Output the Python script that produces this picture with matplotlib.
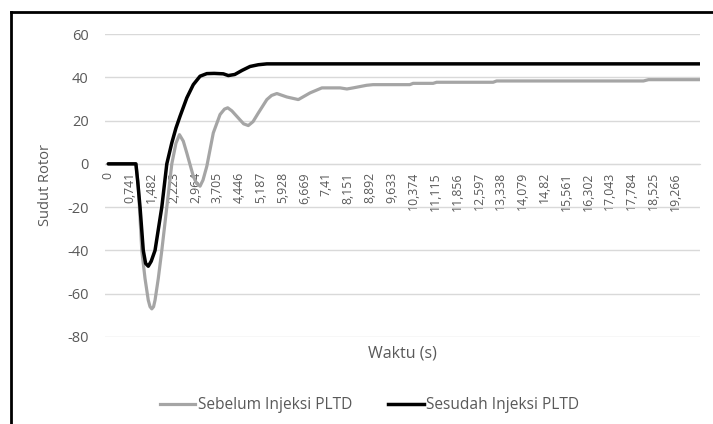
# -*- coding: utf-8 -*-
"""
Sudut rotor sebelum dan sesudah injeksi PLTD
"""

#%% Importing packages
import matplotlib
matplotlib.use('Agg')
import matplotlib.pyplot as plt
from matplotlib.lines import Line2D

plt.rcParams['font.family'] = ['Open Sans', 'DejaVu Sans']

#%% Data
t_sebelum = [0, 0.94, 1.02, 1.14, 1.25, 1.36, 1.42, 1.48, 1.54, 1.59, 1.70, 1.82, 1.99, 2.16,
             2.30, 2.42, 2.55, 2.67, 2.89, 3.00, 3.12, 3.22, 3.35, 3.57, 3.80, 3.95, 4.06,
             4.20, 4.42, 4.60, 4.76, 4.92, 5.10, 5.39, 5.55, 5.73, 6.07, 6.46, 6.86, 7.26,
             7.88, 8.11, 8.32, 8.78, 9.00, 10.25, 10.36, 11.04, 11.16, 13.08, 13.20, 18.19,
             18.36, 20.1]
sebelum = [0, 0, -10, -40, -53, -63, -66, -67, -66, -63, -53, -40, -20, 0,
           9.5, 13.5, 10.5, 5, -5.7, -9, -10.3, -7.5, -1.1, 14.3, 22.8, 25.3, 25.9,
           24.5, 21.2, 18.5, 17.7, 19.5, 23.5, 29.7, 31.6, 32.5, 30.9, 29.7, 32.8, 35.1,
           35.1, 34.6, 35.1, 36.3, 36.6, 36.6, 37.2, 37.2, 37.7, 37.7, 38.3, 38.3,
           38.9, 38.9]

t_sesudah = [0, 0.94, 1.00, 1.08, 1.19, 1.27, 1.36, 1.46, 1.59, 1.82, 1.99, 2.16, 2.30,
             2.44, 2.67, 2.89, 3.12, 3.35, 3.60, 3.91, 4.08, 4.30, 4.55, 4.82, 5.10, 5.39, 20.1]
sesudah = [0, 0, -8, -20, -40, -46, -47.3, -45, -40, -20, 0, 9.7, 16.5,
           22, 30.5, 36.6, 40.5, 41.7, 41.8, 41.6, 40.8, 41.3, 43.2, 45, 45.8, 46.2, 46.2]

x_ticks = [0.741 * k for k in range(27)]
x_labels = [('%.3f' % v).rstrip('0').rstrip('.').replace('.', ',') for v in x_ticks]
y_ticks = [-80, -60, -40, -20, 0, 20, 40, 60]

txt_color = '#595959'
grid_color = '#d9d9d9'

#%% Plot
fig = plt.figure(figsize=(7.13, 4.24), dpi=100)
ax = fig.add_axes([0.1477, 0.2052, 0.8336, 0.7146])

# category axis crosses at zero (set before tick labels, it resets ticks)
for s in ['top', 'right', 'left']:
    ax.spines[s].set_visible(False)
ax.spines['bottom'].set_position(('data', 0))
ax.spines['bottom'].set_color(grid_color)
ax.spines['bottom'].set_zorder(0.5)

ax.plot(t_sebelum, sebelum, color='#a5a5a5', lw=2.3, solid_joinstyle='round',
        solid_capstyle='round')
ax.plot(t_sesudah, sesudah, color='black', lw=2.5, solid_joinstyle='round',
        solid_capstyle='round')

ax.set_xlim(-0.1, 20.1)
ax.set_ylim(-80, 60)
ax.set_yticks(y_ticks)
ax.set_yticklabels([str(v) for v in y_ticks], fontsize=10.5, color=txt_color)
ax.set_xticks(x_ticks)
ax.set_xticklabels(x_labels, fontsize=8.8, color=txt_color)
ax.tick_params(axis='both', length=0)
ax.tick_params(axis='y', pad=12)
ax.tick_params(axis='x', pad=6)
for lbl in ax.get_xticklabels():
    lbl.set_rotation(90)
    lbl.set_rotation_mode('default')
    lbl.set_va('top')
    lbl.set_ha('center')

ax.grid(axis='y', color=grid_color, lw=1)
ax.set_axisbelow(True)

ax.set_ylabel('Sudut Rotor', fontsize=10.5, color=txt_color, labelpad=10)
fig.text(0.5645, 1 - 353 / 424., 'Waktu (s)', fontsize=11.5, color=txt_color,
         ha='center', va='center')

handles = [Line2D([], [], color='#a5a5a5', lw=2.3), Line2D([], [], color='black', lw=2.5)]
fig.legend(handles, ['Sebelum Injeksi PLTD', 'Sesudah Injeksi PLTD'],
           loc='center', bbox_to_anchor=(0.518, 1 - 405 / 424.), ncol=2, frameon=False,
           fontsize=11.2, handlelength=2.3, handletextpad=0.15, columnspacing=2.3,
           labelcolor=txt_color)

# outer chart frame (only top and left edges visible in the crop)
fig.add_artist(Line2D([11 / 713., 1], [1 - 12 / 424.] * 2, color='black', lw=2,
                      transform=fig.transFigure))
fig.add_artist(Line2D([11 / 713.] * 2, [0, 1 - 12 / 424.], color='black', lw=2,
                      transform=fig.transFigure))

fig.savefig('out.png', dpi=100)
plt.close()
